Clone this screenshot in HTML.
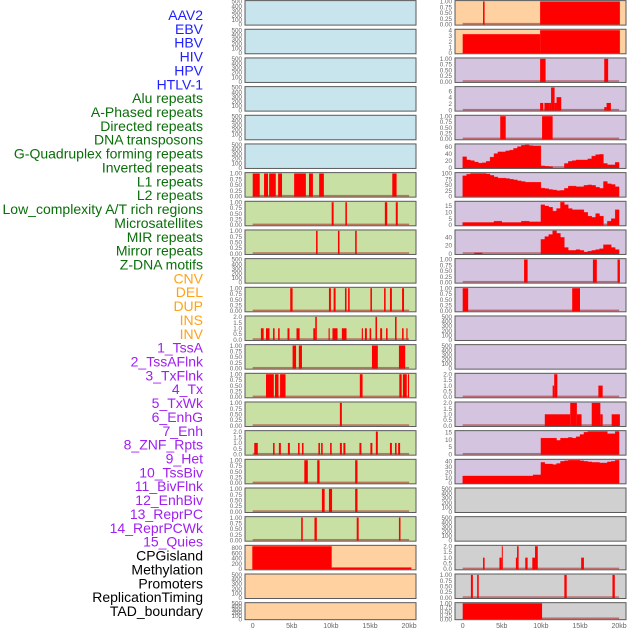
<!DOCTYPE html>
<html><head><meta charset="utf-8"><style>
body{margin:0;background:#fff;}
svg{display:block;font-family:"Liberation Sans",sans-serif;}
</style></head><body>
<svg id="chart" width="630" height="630" viewBox="0 0 630 630"></svg>
<script>
const labels=["AAV2","EBV","HBV","HIV","HPV","HTLV-1","Alu repeats","A-Phased repeats","Directed repeats","DNA transposons","G-Quadruplex forming repeats","Inverted repeats","L1 repeats","L2 repeats","Low_complexity A/T rich regions","Microsatellites","MIR repeats","Mirror repeats","Z-DNA motifs","CNV","DEL","DUP","INS","INV","1_TssA","2_TssAFlnk","3_TxFlnk","4_Tx","5_TxWk","6_EnhG","7_Enh","8_ZNF_Rpts","9_Het","10_TssBiv","11_BivFlnk","12_EnhBiv","13_ReprPC","14_ReprPCWk","15_Quies","CPGisland","Methylation","Promoters","ReplicationTiming","TAD_boundary"];
const labelGroups=[6,13,5,15,5];
const groupColors=["#1f1fff","#0a6e0a","#ffa21a","#a020f0","#000000"];
// left column: interval tracks [startKb,endKb,value]
const leftTicks=[[0,100,200,300,400,500],[0,100,200,300,400,500],[0,100,200,300,400,500],[0,100,200,300,400,500],[0,100,200,300,400,500],[0,100,200,300,400,500],
[0,0.25,0.5,0.75,1],[0,0.25,0.5,0.75,1],[0,0.25,0.5,0.75,1],[0,100,200,300,400,500],[0,0.25,0.5,0.75,1],[0,0.5,1,1.5,2],[0,0.25,0.5,0.75,1],[0,0.25,0.5,0.75,1],[0,0.25,0.5,0.75,1],[0,0.5,1,1.5,2],[0,0.25,0.5,0.75,1],[0,0.25,0.5,0.75,1],[0,0.25,0.5,0.75,1],[0,200,400,600,800],[0,100,200,300,400,500],[0,100,200,300,400,500]];
const leftIntervals=[[],[],[],[],[],[],
[[0,0.9,1],[1.45,1.96,1],[2.1,2.95,1],[3.25,3.75,1],[5.3,6.8,1],[7.2,7.7,1],[8.5,9.1,1],[17.85,18.4,1]],
[[10.1,10.35,1],[11.85,12.05,1],[16.9,17.2,1],[18.3,18.55,1]],
[[8.1,8.3,1],[10.9,11.1,1],[13.1,13.3,1]],
[],
[[4.8,5.1,1],[9.75,10.0,1],[10.35,10.6,1],[11.8,12.0,1],[12.2,12.4,1],[15.05,15.25,1],[16.8,17.0,1],[17.55,17.8,1],[19.1,19.35,1]],
[[1.05,1.4,1],[1.7,2.15,1],[2.6,2.8,1],[3.25,3.45,1],[4.45,4.7,1],[5.6,6.0,1],[7.75,8.0,1],[8.0,8.2,2],[9.7,9.85,1],[10.2,10.85,1],[11.4,12.0,1],[13.95,14.1,1],[14.35,14.6,1],[14.95,15.15,1],[15.7,15.9,2],[16.3,16.55,1],[17.05,17.25,1],[18.2,18.4,2],[19.1,19.3,1],[19.65,19.8,1]],
[[5.1,5.55,1],[5.9,6.3,1],[15.25,16.0,1],[18.7,19.5,1]],
[[1.7,2.7,1],[2.85,3.3,1],[3.5,4.2,1],[13.7,14.05,1],[18.75,19.05,1],[19.2,19.7,1],[19.85,20.0,1]],
[[11.15,11.4,1]],
[[0.2,0.65,1],[2.6,2.8,1],[3.35,3.6,1],[4.5,4.75,1],[5.8,6.0,1],[6.3,6.5,1],[8.4,8.6,1],[8.75,8.95,1],[9.9,10.1,1],[11.15,11.4,1],[11.6,11.85,1],[13.65,13.9,1],[15.05,15.3,1],[15.75,16.0,2],[17.55,17.8,1],[18.2,18.4,1],[18.6,18.85,1]],
[[6.6,7.05,1],[8.25,8.55,1],[13.1,13.4,1]],
[[8.85,9.2,1],[9.75,10.15,1],[13.1,13.4,1]],
[[6.2,6.4,1],[7.9,8.2,1],[13.3,13.55,1],[18.7,18.9,1]],
[[-0.05,10.1,860],[10.1,20.3,60]],
[],[]];
const leftBg=["#c8e4ec","#c8e4ec","#c8e4ec","#c8e4ec","#c8e4ec","#c8e4ec","#c8e0a4","#c8e0a4","#c8e0a4","#c8e0a4","#c8e0a4","#c8e0a4","#c8e0a4","#c8e0a4","#c8e0a4","#c8e0a4","#c8e0a4","#c8e0a4","#c8e0a4","#ffd0a0","#ffd0a0","#ffd0a0"];
// right column
const rightTicks=[[0,0.25,0.5,0.75,1],[0,1,2,3,4],[0,0.25,0.5,0.75,1],[0,2,4,6],[0,0.25,0.5,0.75,1],[0,20,40,60],[0,25,50,75,100],[0,5,10,15],[0,20,40],[0,0.25,0.5,0.75,1],[0,0.25,0.5,0.75,1],[0,100,200,300,400,500],[0,100,200,300,400,500],[0,0.5,1,1.5,2],[0,0.5,1,1.5,2],[0,5,10,15],[0,10,20,30,40],[0,100,200,300,400,500],[0,100,200,300,400,500],[0,0.5,1,1.5,2],[0,0.25,0.5,0.75,1],[0,0.25,0.5,0.75,1]];
const rightIntervals=[
[[2.6,2.8,1],[9.9,20.1,1]],
[[0,9.9,3.3],[9.9,20.1,4]],
[[9.9,10.6,1],[18.1,18.6,1]],
[[9.9,10.3,2.3],[10.45,11.05,2.3],[11.05,11.3,2.3],[11.3,11.75,7.1],[11.75,12.0,2.3],[12.0,12.6,4.1],[18.1,18.4,1],[18.4,18.95,2.3]],
[[4.8,5.5,1],[10.15,11.5,1]],
null,null,null,null,
[[7.85,8.3,1],[16.65,17.15,1],[19.8,20.1,1]],
[[0,0.7,1],[14.0,15.0,1]],
[],[],
[[11.5,11.7,1],[11.7,12.1,2],[17.35,17.9,1]],
[[10.5,13.75,1],[13.75,14.6,2],[14.6,15.2,1],[16.5,17.6,2],[17.6,17.9,1],[19.05,20.1,1]],
null,null,[],[],
[[2.6,2.8,1],[4.7,5.0,1],[5.0,5.1,2],[6.8,6.95,1],[6.95,7.15,2],[8.0,8.3,1],[8.9,9.25,1],[9.25,9.6,2],[15.15,15.5,1]],
[[1.05,1.3,1],[1.85,2.05,1],[13.0,13.3,1],[19.15,19.45,1]],
[[0,10.15,1]]];
// binned tracks, 0.5kb bins from 0 to 20kb
const binsR6=[31,22,20,16,13,14,18,30,40,45,45,48,50,55,60,64,65,63,62,62,5,4,3,0,0,0,12,18,20,22,22,22,25,33,37,38,12,8,8,15];
const binsR7=[90,97,100,100,100,100,98,92,85,80,80,78,75,72,68,65,62,62,62,62,36,34,30,28,25,26,35,45,45,42,42,48,50,48,40,35,65,55,52,42];
const binsR8=[2,2,2,2,2,2,2,2,3,3,2,2,2,2,2,3,3,2.5,2.5,2.5,16,15,14,11,13,18,16,13,12,12,12,10,7,6,9,7,0,3,5,12];
const binsR9=[0,0,0,2,2,0,0,0,0,0,0,0,0,0,0,0,0,0,0,0,35,42,47,56,50,40,15,8,8,10,8,4,6,8,10,12,22,22,15,10];
const binsR16=[0,0,0,0,0,0,0,0,0,0,0,0,0,0,0,0,0,0,0,0,11,11,11,11,9.5,11,11,11.5,11,12,13.5,15,15.5,15.5,15.5,15.5,15.5,14,14,15.5];
const binsR17=[13,13,13,13,13,13,13,13,13,13,13,13,13,13,13,13,13,13,15,15,38,35,35,34,36,40,41,42,42,42,41,40,39,38,38,37,37,39,40,42];
const rightBins={5:binsR6,6:binsR7,7:binsR8,8:binsR9,15:binsR16,16:binsR17};
const rightBg=["#ffd0a0","#ffd0a0","#d4c4e0","#d4c4e0","#d4c4e0","#d4c4e0","#d4c4e0","#d4c4e0","#d4c4e0","#d4c4e0","#d4c4e0","#d4c4e0","#d4c4e0","#d4c4e0","#d4c4e0","#d4c4e0","#d4c4e0","#d0d0d0","#d0d0d0","#d0d0d0","#d0d0d0","#d0d0d0"];
const xTickKb=[0,5,10,15,20];
const xTickLabels=["0","5kb","10kb","15kb","20kb"];

const NS="http://www.w3.org/2000/svg";
const svg=document.getElementById("chart");
function mk(tag,attrs,parent){const e=document.createElementNS(NS,tag);for(const k in attrs)e.setAttribute(k,attrs[k]);(parent||svg).appendChild(e);return e;}
const cols=[{x0:245,x1:416,z:252.7},{x0:455,x1:626,z:462.7}];
const KB=7.82;
function xScale(col,kb){return cols[col].z+kb*KB;}
function rowTop(i){return 0.6+i*28.67;}
function rowH(i){return i===21?17:24.5;}
function fmt(t,ticks){const step=ticks[1]-ticks[0];if(step<0.5&&step<1)return t.toFixed(2);if(step<1)return t.toFixed(1);return String(t);}

// labels
let li=0;
labelGroups.forEach((n,g)=>{for(let k=0;k<n;k++){const t=mk("text",{x:203,y:15+li*13.86+5,"text-anchor":"end","font-size":"14",fill:groupColors[g]});t.textContent=labels[li];


li++;}});

function drawPanel(col,i,bg,ticks,intervals,bins){
  const x0=cols[col].x0,x1=cols[col].x1,top=rowTop(i),h=rowH(i),bot=top+h;
  const g=mk("g",{});
  
  
  mk("rect",{x:x0,y:top,width:x1-x0,height:h,fill:bg},g);
  let dmax=ticks[ticks.length-1];
  if(intervals)intervals.forEach(v=>{if(v[2]>dmax)dmax=v[2];});
  if(bins)bins.forEach(v=>{if(v>dmax)dmax=v;});
  const yTop=dmax*1.04,yBot=-dmax*0.035;
  const yS=v=>bot-(v-yBot)/(yTop-yBot)*h;
  const hasData=(intervals&&intervals.length)||bins;
  if(hasData)mk("rect",{x:xScale(col,0),y:bot-2.2,width:xScale(col,20)-xScale(col,0),height:1.6,fill:"rgba(170,30,30,0.55)"},g);
  if(intervals)intervals.forEach(v=>{const a=Math.max(x0+0.5,xScale(col,v[0])),b=Math.min(x1-0.5,xScale(col,v[1]));
    const r=mk("rect",{x:a,y:yS(v[2]),width:Math.max(1,b-a),height:yS(0)-yS(v[2])+ (yS(0)<bot?bot-yS(0)-0.5:0),fill:"#ff0000"},g);
    
    });
  if(bins){let d="";bins.forEach((v,k)=>{if(v<=0)return;const a=xScale(col,k*0.5),b=xScale(col,k*0.5+0.5);d+=`M${a},${bot-0.5}V${yS(v)}H${b}V${bot-0.5}Z`;});
    const p=mk("path",{d:d,fill:"#ff0000",stroke:"#ff0000","stroke-width":"0.3"},g);
    
    }
  mk("rect",{x:x0,y:top,width:x1-x0,height:h,fill:"none",stroke:"#5a5a5a","stroke-width":"1"},g);
  ticks.forEach(t=>{const tx=mk("text",{x:x0-3,y:yS(t)+2.2,"text-anchor":"end","font-size":"6.3",fill:"#666"},g);tx.textContent=fmt(t,ticks);
    
    });
}
for(let i=0;i<22;i++){
  drawPanel(0,i,leftBg[i],leftTicks[i],leftIntervals[i],null);
  drawPanel(1,i,rightBg[i],rightTicks[i],rightIntervals[i],rightBins[i]||null);
}
[0,1].forEach(c=>{xTickKb.forEach((kb,k)=>{const t=mk("text",{x:xScale(c,kb),y:628,"text-anchor":"middle","font-size":"7",fill:"#666"});t.textContent=xTickLabels[k];
  
  });});
</script>
</body></html>
